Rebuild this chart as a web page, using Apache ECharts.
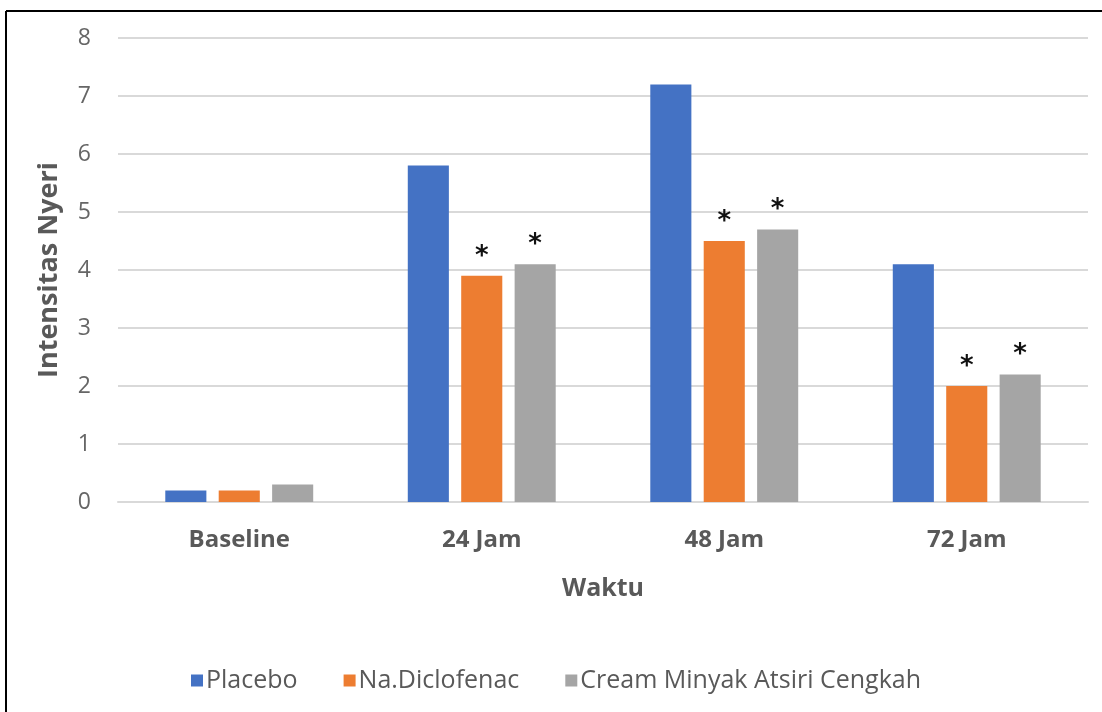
<!DOCTYPE html>
<html><head><meta charset="utf-8">
<script src="https://cdn.jsdelivr.net/npm/echarts@6/dist/echarts.min.js"></script>
<style>html,body{margin:0;padding:0;background:#fff}#c{width:1102px;height:712px}</style>
</head><body><div id="c"></div>
<script>
const categories = ['Baseline', '24 Jam', '48 Jam', '72 Jam'];
const placebo = [0.2, 5.8, 7.2, 4.1];
const diclofenac = [0.2, 3.9, 4.5, 2.0];
const cream = [0.3, 4.1, 4.7, 2.2];
const diclofenacMark = ['', '*', '*', '*'];
const creamMark = ['', '*', '*', '*'];
const yTicks = [0, 1, 2, 3, 4, 5, 6, 7, 8];

const font = '"Open Sans", sans-serif';
const chart = echarts.init(document.getElementById('c'), null, {renderer: 'canvas'});
function withMarks(vals, marks) {
  return vals.map((v, i) => ({value: v, label: {show: marks[i] !== '', formatter: marks[i]}}));
}
const markLabel = {position: 'top', distance: 6, color: '#111', fontSize: 26, fontWeight: 'bold', fontFamily: 'DejaVu Sans'};
chart.setOption({
  animation: false,
  backgroundColor: '#fff',
  graphic: [
    {type: 'line', shape: {x1: 6, y1: 11, x2: 1102, y2: 11}, style: {stroke: '#000', lineWidth: 2}},
    {type: 'line', shape: {x1: 6, y1: 11, x2: 6, y2: 712}, style: {stroke: '#000', lineWidth: 2}}
  ],
  grid: {left: 118, right: 14, top: 38, bottom: 210, containLabel: false},
  legend: {
    bottom: 14, left: 186, itemWidth: 12, itemHeight: 12, itemGap: 46,
    icon: 'rect',
    textStyle: {color: '#595959', fontSize: 25, fontFamily: font, padding: [0, 0, 0, -2]},
    data: ['Placebo', 'Na.Diclofenac', 'Cream Minyak Atsiri Cengkah']
  },
  xAxis: {
    type: 'category', data: categories,
    name: 'Waktu', nameLocation: 'middle', nameGap: 74,
    nameTextStyle: {color: '#595959', fontSize: 25, fontWeight: 'bold', fontFamily: font},
    axisLine: {show: true, lineStyle: {color: '#d9d9d9', width: 2}},
    axisTick: {show: false},
    axisLabel: {color: '#595959', fontSize: 24, fontWeight: 'bold', fontFamily: font, margin: 26}
  },
  yAxis: {
    type: 'value', min: 0, max: 8, interval: 1,
    name: 'Intensitas Nyeri', nameLocation: 'middle', nameGap: 55, nameRotate: 90,
    nameTextStyle: {color: '#595959', fontSize: 27, fontWeight: 'bold', fontFamily: font},
    axisLine: {show: false}, axisTick: {show: false},
    splitLine: {lineStyle: {color: '#d9d9d9', width: 2}},
    axisLabel: {color: '#666', fontSize: 23, fontFamily: font, margin: 27,
      formatter: v => yTicks.includes(v) ? String(v) : ''}
  },
  series: [
    {name: 'Placebo', type: 'bar', data: placebo, barGap: '30%', barCategoryGap: '39%',
      itemStyle: {color: '#4472c4'}},
    {name: 'Na.Diclofenac', type: 'bar', data: withMarks(diclofenac, diclofenacMark),
      itemStyle: {color: '#ed7d31'}, label: markLabel},
    {name: 'Cream Minyak Atsiri Cengkah', type: 'bar', data: withMarks(cream, creamMark),
      itemStyle: {color: '#a5a5a5'}, label: markLabel}
  ]
});
</script></body></html>
